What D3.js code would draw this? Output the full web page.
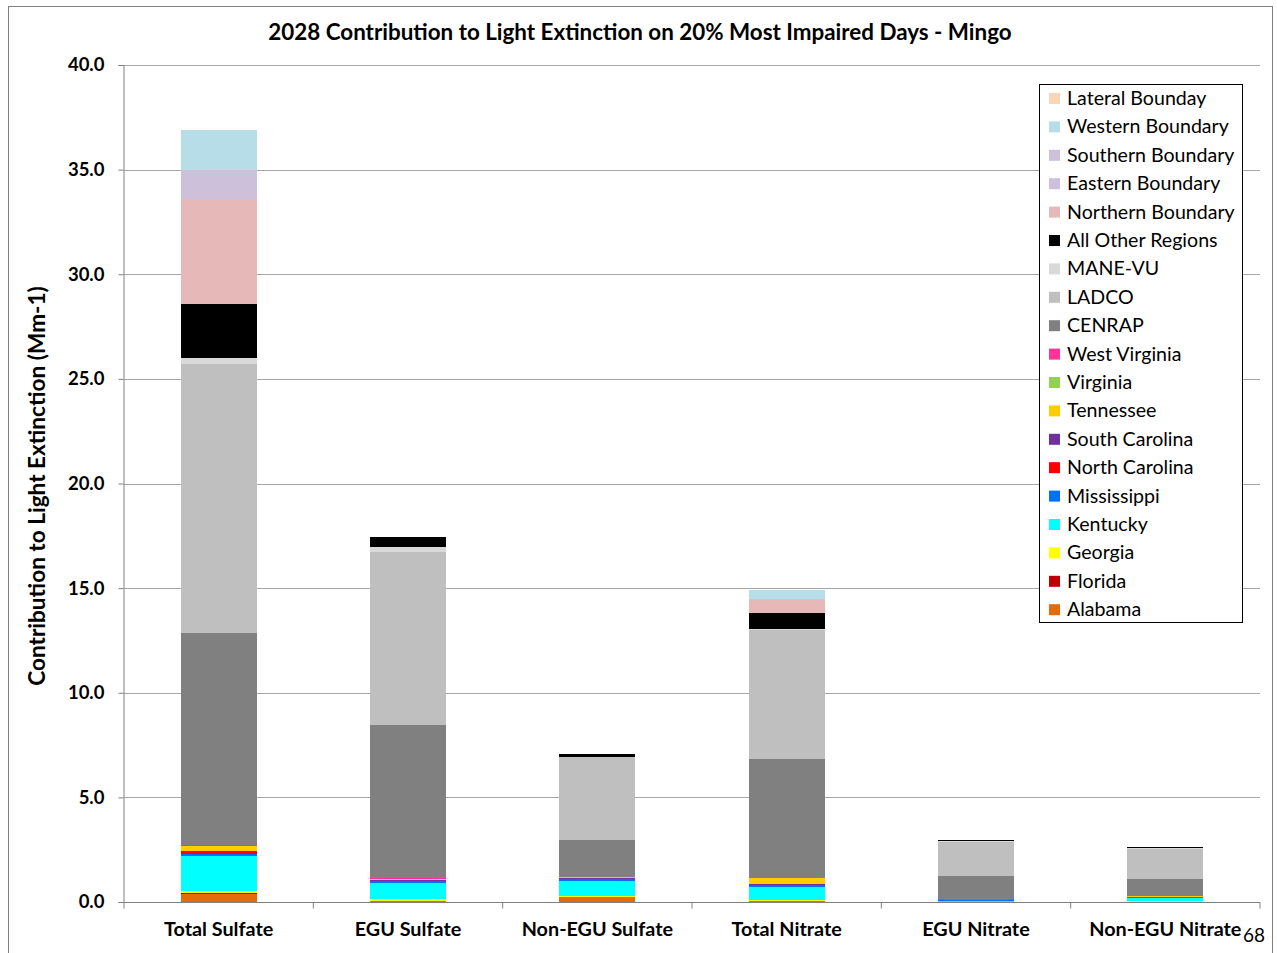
<!DOCTYPE html>
<html><head><meta charset="utf-8">
<script src="https://cdn.jsdelivr.net/npm/d3@7"></script>
<style>body{margin:0;background:#fff;} svg{display:block;font-family:Lato,"Open Sans",sans-serif;}</style>
</head><body>
<svg id="chart" width="1277" height="953"></svg>
<script>
const categories = ["Total Sulfate","EGU Sulfate","Non-EGU Sulfate","Total Nitrate","EGU Nitrate","Non-EGU Nitrate"];
const regions = ["Alabama","Florida","Georgia","Kentucky","Mississippi","North Carolina","South Carolina","Tennessee","Virginia","West Virginia","CENRAP","LADCO","MANE-VU","All Other Regions","Northern Boundary","Eastern Boundary","Southern Boundary","Western Boundary","Lateral Bounday"];
const colors = ["#E36C09","#C00000","#FFFF00","#00FFFF","#0070FF","#FF0000","#7030A0","#FFCC00","#92D050","#FF3399","#808080","#BFBFBF","#D9D9D9","#000000","#E6B8B7","#CCC0DA","#CCC0DA","#B7DEE8","#FBD5B5"];
const alabama      = [0.39,0.05,0.22,0.05,0.01,0.01];
const florida      = [0.02,0.02,0.01,0.01,0.00,0.00];
const georgia      = [0.10,0.08,0.05,0.02,0.00,0.02];
const kentucky     = [1.69,0.76,0.72,0.65,0.06,0.14];
const mississippi  = [0.11,0.08,0.08,0.08,0.01,0.05];
const northCarolina= [0.10,0.03,0.02,0.02,0.00,0.00];
const southCarolina= [0.03,0.05,0.06,0.01,0.00,0.00];
const tennessee    = [0.22,0.03,0.02,0.29,0.01,0.05];
const virginia     = [0.02,0.01,0.01,0.02,0.00,0.01];
const westVirginia = [0.03,0.06,0.02,0.01,0.07,0.00];
const cenrap       = [10.13,7.28,1.75,5.69,1.10,0.84];
const ladco        = [12.86,8.28,3.96,6.16,1.63,1.43];
const manevu       = [0.32,0.22,0.03,0.05,0.01,0.01];
const allOther     = [2.58,0.48,0.11,0.75,0.08,0.07];
const northern     = [4.99,0.00,0.00,0.61,0.00,0.00];
const eastern      = [0.70,0.00,0.00,0.04,0.00,0.00];
const southern     = [0.70,0.00,0.00,0.04,0.00,0.00];
const western      = [1.90,0.00,0.00,0.40,0.00,0.00];
const lateral      = [0.00,0.00,0.00,0.00,0.00,0.00];
const yTicks = [0,5,10,15,20,25,30,35,40];

const series = [alabama,florida,georgia,kentucky,mississippi,northCarolina,southCarolina,tennessee,virginia,westVirginia,cenrap,ladco,manevu,allOther,northern,eastern,southern,western,lateral];
const table = categories.map((c,i)=>{const o={cat:c}; regions.forEach((r,j)=>o[r]=series[j][i]); return o;});

const svg = d3.select("#chart");
svg.append("rect").attr("x",8.5).attr("y",6.5).attr("width",1264).attr("height",960).attr("fill","none").attr("stroke","#808080");

const x = d3.scaleBand().domain(categories).range([124,1260]).paddingInner(0.6).paddingOuter(0.3);
const y = d3.scaleLinear().domain([0,40]).range([902,65]);

// gridlines
svg.append("g").selectAll("line").data(yTicks.slice(1)).join("line")
  .attr("x1",124).attr("x2",1260).attr("y1",d=>Math.round(y(d))+0.5).attr("y2",d=>Math.round(y(d))+0.5)
  .attr("stroke","#A6A6A6").attr("stroke-width",1);

const stack = d3.stack().keys(regions)(table);
svg.append("g").attr("shape-rendering","crispEdges").selectAll("g").data(stack).join("g").attr("fill",(d,i)=>colors[i])
  .selectAll("rect").data(d=>d).join("rect")
  .attr("x",d=>x(d.data.cat)).attr("width",x.bandwidth())
  .attr("y",d=>y(d[1])).attr("height",d=>Math.max(0,y(d[0])-y(d[1])));

// y axis
const ya = svg.append("g").attr("transform","translate(123.5,0)")
  .call(d3.axisLeft(y).tickValues(yTicks).tickFormat(d3.format(".1f")).tickSize(5).tickPadding(14));
ya.select(".domain").attr("stroke","#808080");
ya.selectAll(".tick line").attr("stroke","#808080");
ya.selectAll("text").attr("font-size",18.5).attr("font-weight","bold").attr("fill","#000").attr("font-family","Lato");

// x axis
const xa = svg.append("g").attr("transform","translate(0,902.5)");
xa.append("line").attr("x1",123).attr("x2",1260).attr("stroke","#808080");
const bounds = d3.range(categories.length+1).map(i=>124+i*(1136/categories.length));
xa.selectAll("line.t").data(bounds).join("line").attr("class","t")
  .attr("x1",d=>d).attr("x2",d=>d).attr("y1",0).attr("y2",6).attr("stroke","#808080");
xa.selectAll("text").data(categories).join("text")
  .attr("x",d=>x(d)+x.bandwidth()/2).attr("y",33).attr("text-anchor","middle")
  .attr("font-size",19.8).attr("font-weight","bold").text(d=>d);

// title
svg.append("text").attr("x",640).attr("y",40).attr("text-anchor","middle")
  .attr("font-size",22.4).attr("font-weight","bold").text("2028 Contribution to Light Extinction on 20% Most Impaired Days - Mingo");

// y title
svg.append("text").attr("transform","translate(45,486) rotate(-90)").attr("text-anchor","middle")
  .attr("font-size",22.6).attr("font-weight","bold").text("Contribution to Light Extinction (Mm-1)");

// legend
const lg = svg.append("g");
lg.append("rect").attr("x",1039.5).attr("y",84.5).attr("width",203).attr("height",538).attr("fill","#fff").attr("stroke","#000");
const legendOrder = regions.slice().reverse();
const legendColors = colors.slice().reverse();
const items = lg.selectAll("g.item").data(legendOrder).join("g").attr("class","item")
  .attr("transform",(d,i)=>`translate(1049,${98.5+i*28.4})`);
items.append("rect").attr("x",0).attr("y",-5.5).attr("width",11).attr("height",11).attr("fill",(d,i)=>legendColors[i]);
items.append("text").attr("x",18).attr("y",6.5).attr("font-size",19.6).text(d=>d);

// page number
svg.append("text").attr("x",1243).attr("y",942).attr("font-size",19).text("68");
</script>
</body></html>
